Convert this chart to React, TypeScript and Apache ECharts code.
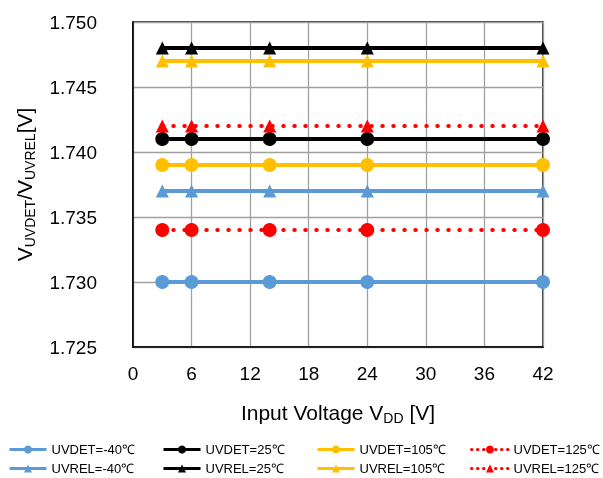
import React, { useEffect, useRef } from "react";
import * as echarts from "echarts";

const xValues = [3, 6, 14, 24, 42];
const seriesNames = [
  "UVDET=-40℃",
  "UVREL=-40℃",
  "UVDET=25℃",
  "UVREL=25℃",
  "UVDET=105℃",
  "UVREL=105℃",
  "UVDET=125℃",
  "UVREL=125℃",
];
const uvdetM40 = [1.73, 1.73, 1.73, 1.73, 1.73];
const uvrelM40 = [1.737, 1.737, 1.737, 1.737, 1.737];
const uvdet25 = [1.741, 1.741, 1.741, 1.741, 1.741];
const uvrel25 = [1.748, 1.748, 1.748, 1.748, 1.748];
const uvdet105 = [1.739, 1.739, 1.739, 1.739, 1.739];
const uvrel105 = [1.747, 1.747, 1.747, 1.747, 1.747];
const uvdet125 = [1.734, 1.734, 1.734, 1.734, 1.734];
const uvrel125 = [1.742, 1.742, 1.742, 1.742, 1.742];
const xTicks = [0, 6, 12, 18, 24, 30, 36, 42];
const yTicks = [1.725, 1.73, 1.735, 1.74, 1.745, 1.75];

const seriesValues = [uvdetM40, uvrelM40, uvdet25, uvrel25, uvdet105, uvrel105, uvdet125, uvrel125];
const colors = ["#5B9BD5", "#5B9BD5", "#000000", "#000000", "#FFC000", "#FFC000", "#FF0000", "#FF0000"];

const FONT = "Liberation Sans, Arial, sans-serif";

export default function App() {
  const ref = useRef<HTMLDivElement>(null);
  useEffect(() => {
    if (!ref.current) return;
    const chart = echarts.init(ref.current, undefined, { renderer: "svg" });
    const series = seriesNames.map((name, i) => {
      const isDet = i % 2 === 0;
      const dotted = i >= 6;
      return {
        name,
        type: "line",
        data: xValues.map((x, j) => [x, seriesValues[i][j]]),
        symbol: isDet ? "circle" : "triangle",
        symbolSize: isDet ? 14 : 13,
        itemStyle: { color: colors[i] },
        lineStyle: dotted
          ? { color: colors[i], width: 4, type: [0.5, 10.5], cap: "round" }
          : { color: colors[i], width: 4 },
        z: 2 + i,
      };
    });
    const legends = seriesNames.map((name, i) => {
      const col = Math.floor(i / 2);
      const row = i % 2;
      const dotted = i >= 6;
      return {
        data: [name],
        left: 8 + col * 154,
        top: 443 + row * 19,
        itemWidth: 37,
        itemHeight: 10,
        itemGap: 0,
        padding: 0,
        lineStyle: dotted
          ? { width: 3, type: [0.5, 5.5], cap: "round" }
          : { width: 3 },
        textStyle: { fontSize: 13, fontFamily: FONT, color: "#000" },
      };
    });
    chart.setOption({
      animation: false,
      color: colors,
      legend: legends,
      grid: {
        left: 133,
        right: 60,
        top: 22,
        bottom: 131,
        show: true,
        borderColor: "#000",
        borderWidth: 1.5,
        containLabel: false,
      },
      xAxis: {
        type: "value",
        min: xTicks[0],
        max: xTicks[xTicks.length - 1],
        interval: 6,
        axisLine: { show: true, lineStyle: { color: "#000", width: 1.5 } },
        axisTick: { show: false },
        splitLine: { show: true, lineStyle: { color: "#A0A0A0", width: 1.3 } },
        axisLabel: { fontSize: 19, fontFamily: FONT, color: "#000", margin: 17 },
        name: "{m|Input Voltage V}{s|DD}{m| [V]}",
        nameLocation: "middle",
        nameGap: 52,
        nameTextStyle: {
          fontFamily: FONT,
          color: "#000",
          rich: {
            m: { fontSize: 21, fontFamily: FONT, color: "#000" },
            s: { fontSize: 14, fontFamily: FONT, color: "#000", padding: [12, 0, 0, 0] },
          },
        },
      },
      yAxis: {
        type: "value",
        min: yTicks[0],
        max: yTicks[yTicks.length - 1],
        interval: 0.005,
        axisLine: { show: true, lineStyle: { color: "#000", width: 1.5 } },
        axisTick: { show: false },
        splitLine: { show: true, lineStyle: { color: "#A0A0A0", width: 1.3 } },
        axisLabel: {
          fontSize: 19,
          fontFamily: FONT,
          color: "#000",
          margin: 36,
          formatter: (v: number) => v.toFixed(3),
        },
        name: "{m|V}{s|UVDET}{m|/V}{s|UVREL}{m|[V]}",
        nameLocation: "middle",
        nameGap: 96,
        nameRotate: 90,
        nameTextStyle: {
          fontFamily: FONT,
          color: "#000",
          rich: {
            m: { fontSize: 21, fontFamily: FONT, color: "#000" },
            s: { fontSize: 14, fontFamily: FONT, color: "#000", padding: [12, 0, 0, 0] },
          },
        },
      },
      series,
    });
    return () => chart.dispose();
  }, []);
  return <div ref={ref} style={{ position: "fixed", left: 0, top: 0, width: 603, height: 478 }} />;
}
